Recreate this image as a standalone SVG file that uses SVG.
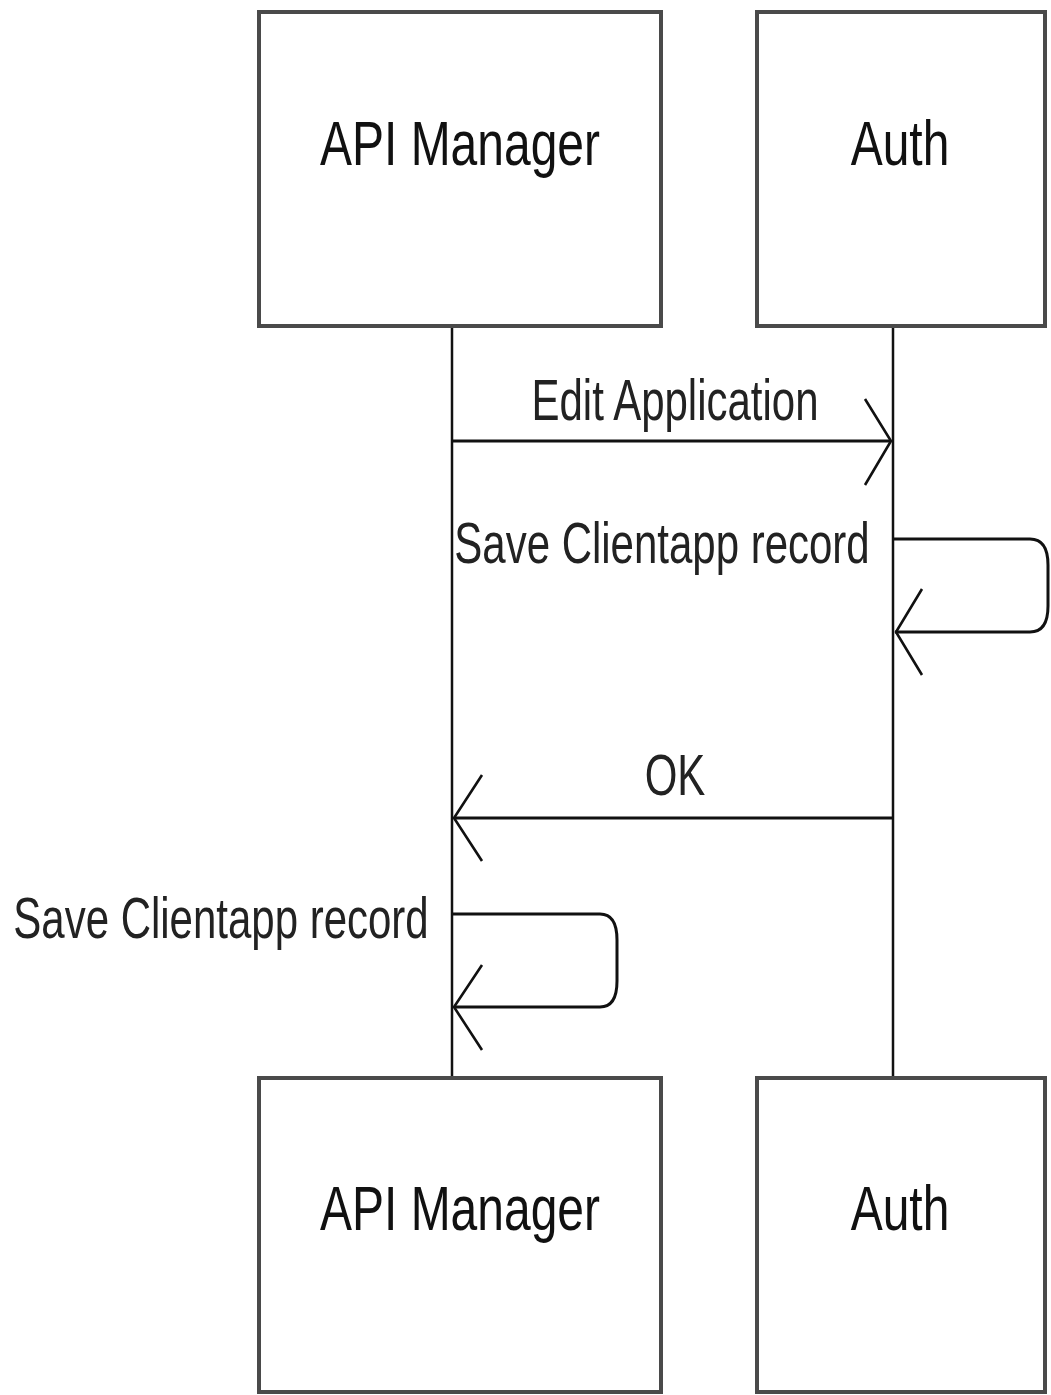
<svg xmlns="http://www.w3.org/2000/svg" width="1051" height="1395" viewBox="0 0 1051 1395">
<style>
.box{fill:#fff;stroke:#4a4a4a;stroke-width:4}
.life{stroke:#111;stroke-width:2.5;fill:none}
.msg{stroke:#111;stroke-width:3;fill:none}
.head{stroke:#111;stroke-width:2.6;fill:none}
.nl{font-family:"Liberation Sans",Arial,sans-serif;font-size:48px;fill:#111;text-anchor:middle}
.ml{font-family:"Liberation Sans",Arial,sans-serif;font-size:42px;fill:#222;text-anchor:middle}
</style>
<rect width="1051" height="1395" fill="#fff"/>
<g id="connectors">
<line class="life" x1="452" y1="327" x2="452" y2="1078"/>
<line class="life" x1="893" y1="327" x2="893" y2="1078"/>
<g id="edit-application">
<line class="msg" x1="452" y1="441" x2="891" y2="441"/>
<polyline class="head" points="865,399 891,441 865,485"/>
<text class="ml" transform="translate(675,420) scale(1,1.35)">Edit Application</text>
</g>
<g id="save-auth">
<path class="msg" d="M893,539 H1030 Q1048,539 1048,565 V606 Q1048,632 1030,632 H895"/>
<polyline class="head" points="922,589 896,632 922,675"/>
<text class="ml" transform="translate(662,563) scale(1,1.35)">Save Clientapp record</text>
</g>
<g id="ok">
<line class="msg" x1="893" y1="818" x2="454" y2="818"/>
<polyline class="head" points="482,775 454,818 482,861"/>
<text class="ml" transform="translate(675,795) scale(1,1.35)">OK</text>
</g>
<g id="save-api">
<path class="msg" d="M452,914 H600 Q617,914 617,940 V981 Q617,1007 600,1007 H454"/>
<polyline class="head" points="482,965 454,1007 482,1050"/>
<text class="ml" transform="translate(221,938) scale(1,1.35)">Save Clientapp record</text>
</g>
</g>
<g id="api-manager-top">
<rect class="box" x="259" y="12" width="402" height="314"/>
<text class="nl" transform="translate(460,165) scale(1,1.32)">API Manager</text>
</g>
<g id="auth-top">
<rect class="box" x="757" y="12" width="288" height="314"/>
<text class="nl" transform="translate(900,165) scale(1,1.32)">Auth</text>
</g>
<g id="api-manager-bottom">
<rect class="box" x="259" y="1078" width="402" height="314"/>
<text class="nl" transform="translate(460,1230) scale(1,1.32)">API Manager</text>
</g>
<g id="auth-bottom">
<rect class="box" x="757" y="1078" width="288" height="314"/>
<text class="nl" transform="translate(900,1230) scale(1,1.32)">Auth</text>
</g>
</svg>
